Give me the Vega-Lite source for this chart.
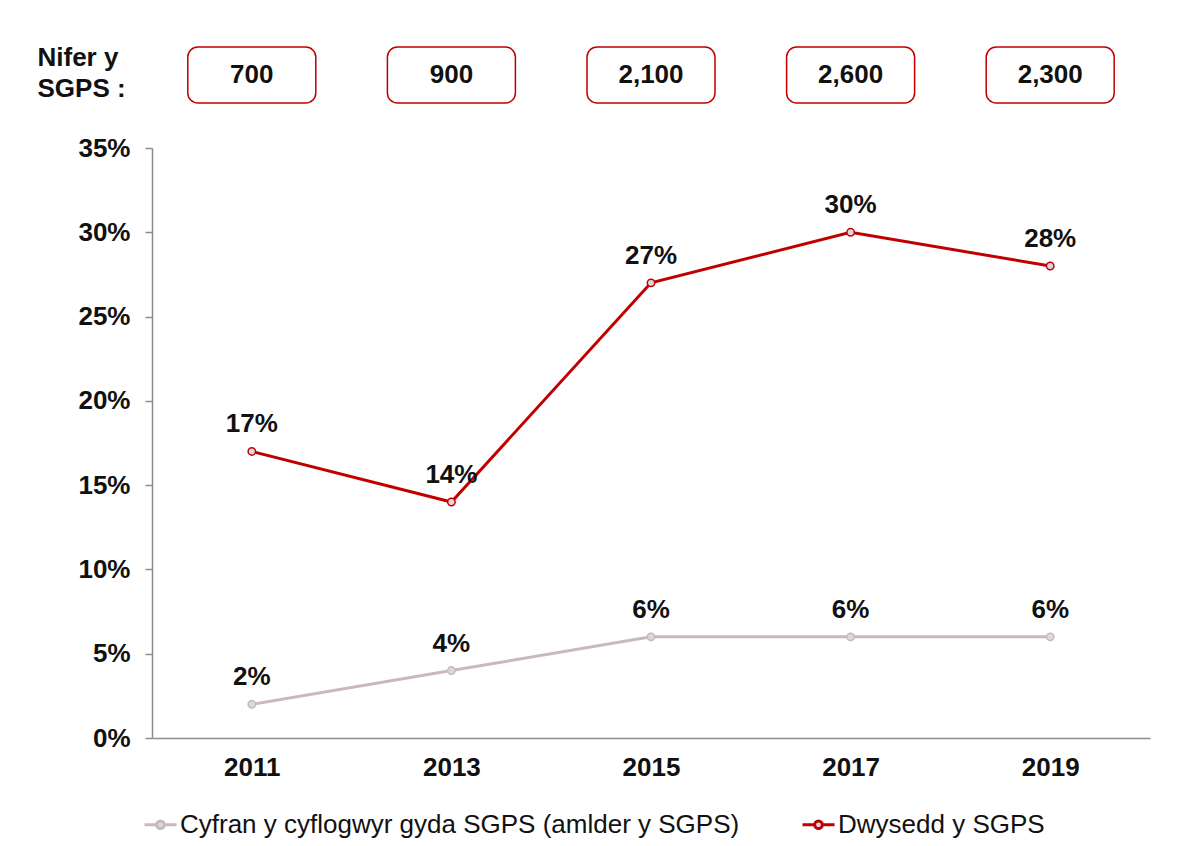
{
  "$schema": "https://vega.github.io/schema/vega-lite/v6.json",
  "width": 998,
  "height": 590,
  "autosize": {"type": "none"},
  "padding": {"left": 152, "top": 148, "right": 29, "bottom": 108},
  "background": "white",
  "config": {
    "view": {"stroke": null},
    "font": "Liberation Sans",
    "axis": {"grid": false}
  },
  "datasets": {
    "series": [
      {"year": "2011", "series": "Cyfran y cyflogwyr gyda SGPS (amlder y SGPS)", "value": 0.02},
      {"year": "2013", "series": "Cyfran y cyflogwyr gyda SGPS (amlder y SGPS)", "value": 0.04},
      {"year": "2015", "series": "Cyfran y cyflogwyr gyda SGPS (amlder y SGPS)", "value": 0.06},
      {"year": "2017", "series": "Cyfran y cyflogwyr gyda SGPS (amlder y SGPS)", "value": 0.06},
      {"year": "2019", "series": "Cyfran y cyflogwyr gyda SGPS (amlder y SGPS)", "value": 0.06},
      {"year": "2011", "series": "Dwysedd y SGPS", "value": 0.17},
      {"year": "2013", "series": "Dwysedd y SGPS", "value": 0.14},
      {"year": "2015", "series": "Dwysedd y SGPS", "value": 0.27},
      {"year": "2017", "series": "Dwysedd y SGPS", "value": 0.30},
      {"year": "2019", "series": "Dwysedd y SGPS", "value": 0.28}
    ],
    "counts": [
      {"year": "2011", "count": 700},
      {"year": "2013", "count": 900},
      {"year": "2015", "count": 2100},
      {"year": "2017", "count": 2600},
      {"year": "2019", "count": 2300}
    ]
  },
  "encoding": {
    "x": {
      "field": "year", "type": "ordinal",
      "scale": {"type": "point", "padding": 0.5, "domain": ["2011", "2013", "2015", "2017", "2019"]},
      "axis": {
        "title": null, "labelAngle": 0, "ticks": false,
        "labelFont": "Liberation Sans", "labelFontSize": 26, "labelFontWeight": "bold", "labelColor": "#111111",
        "labelPadding": 16, "domainColor": "#8c8c8c", "domainWidth": 1.5
      }
    }
  },
  "layer": [
    {
      "data": {"name": "series"},
      "mark": {"type": "line", "strokeWidth": 3},
      "encoding": {
        "y": {
          "field": "value", "type": "quantitative",
          "scale": {"domain": [0, 0.35], "nice": false, "zero": true},
          "axis": {
            "values": [0, 0.05, 0.1, 0.15, 0.2, 0.25, 0.3, 0.35],
            "format": ".0%",
            "title": ["Nifer y", "SGPS :"],
            "titleAngle": 0, "titleAlign": "left", "titleBaseline": "alphabetic",
            "titleX": -115, "titleY": -83, "titleFontSize": 26, "titleFontWeight": "bold",
            "titleColor": "#111111", "titleLineHeight": 31, "titleFont": "Liberation Sans",
            "labelFont": "Liberation Sans", "labelFontSize": 26, "labelFontWeight": "bold", "labelColor": "#111111",
            "labelPadding": 15, "tickSize": 7, "tickColor": "#8c8c8c", "tickWidth": 1.5,
            "domainColor": "#8c8c8c", "domainWidth": 1.5
          }
        },
        "color": {
          "field": "series", "type": "nominal",
          "scale": {
            "domain": ["Cyfran y cyflogwyr gyda SGPS (amlder y SGPS)", "Dwysedd y SGPS"],
            "range": ["#C8B9BD", "#C00000"]
          },
          "legend": {
            "title": null, "orient": "none", "direction": "horizontal",
            "legendX": -9, "legendY": 659,
            "symbolType": "M-1,0L-0.24,0M0.24,0L1,0M-0.24,0A0.24,0.24,0,1,1,0.24,0A0.24,0.24,0,1,1,-0.24,0",
            "symbolSize": 1024, "symbolStrokeWidth": 3, "symbolFillColor": "#D9D9DE",
            "labelFont": "Liberation Sans", "labelFontSize": 26, "labelColor": "#111111",
            "labelOffset": 2, "columnPadding": 56, "labelLimit": 1000
          }
        }
      }
    },
    {
      "data": {"name": "series"},
      "mark": {"type": "point", "shape": "circle", "filled": false, "fill": "#D9D9DE", "fillOpacity": 1, "size": 55, "strokeWidth": 1.5, "opacity": 1},
      "encoding": {
        "y": {"field": "value", "type": "quantitative"},
        "color": {"field": "series", "type": "nominal"}
      }
    },
    {
      "data": {"name": "series"},
      "mark": {"type": "text", "dy": -27, "fontSize": 26, "fontWeight": "bold", "font": "Liberation Sans", "color": "#111111", "baseline": "middle"},
      "encoding": {
        "y": {"field": "value", "type": "quantitative"},
        "text": {"field": "value", "type": "quantitative", "format": ".0%"}
      }
    },
    {
      "data": {"name": "counts"},
      "mark": {"type": "bar", "width": 128, "fill": "white", "stroke": "#C00000", "strokeWidth": 1.5, "cornerRadius": 10},
      "encoding": {
        "y": {"datum": 0.4099, "type": "quantitative"},
        "y2": {"datum": 0.3767}
      }
    },
    {
      "data": {"name": "counts"},
      "mark": {"type": "text", "fontSize": 26, "fontWeight": "bold", "font": "Liberation Sans", "color": "#111111", "baseline": "middle"},
      "encoding": {
        "y": {"datum": 0.3933, "type": "quantitative"},
        "text": {"field": "count", "type": "quantitative", "format": ",d"}
      }
    }
  ]
}
